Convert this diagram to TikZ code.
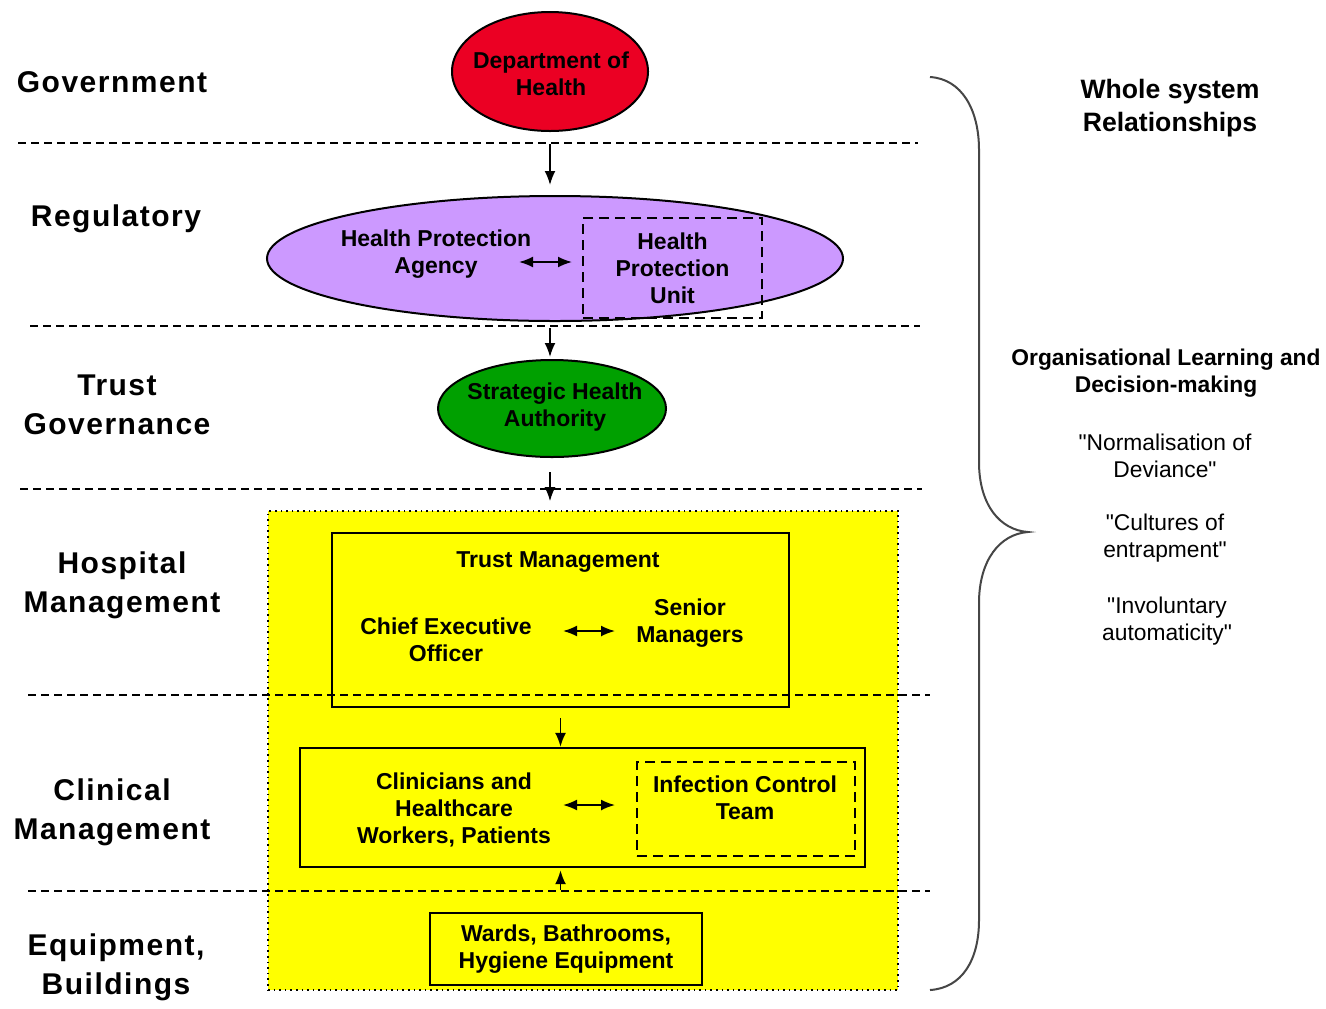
\documentclass[tikz,border=0pt]{standalone}
\usepackage{fontspec}
\setmainfont{Liberation Sans}
\newfontfamily\labfont[LetterSpace=5]{Liberation Sans}
\usetikzlibrary{shapes.geometric,arrows.meta}
\definecolor{dohred}{RGB}{235,0,35}
\definecolor{hpalav}{RGB}{204,153,255}
\definecolor{shagreen}{RGB}{0,160,0}
\definecolor{boxyellow}{RGB}{255,255,0}
\definecolor{bracegray}{RGB}{70,70,70}
\tikzset{
  ell/.style={ellipse, draw=black, line width=1pt, inner sep=0pt},
  txt/.style={align=center, inner sep=0pt, font=\fontsize{11.5}{13.5}\selectfont\bfseries},
  lab/.style={align=center, inner sep=0pt, font=\fontsize{15}{19.5}\selectfont\labfont\bfseries},
  sidebold/.style={align=center, inner sep=0pt, font=\fontsize{11.4}{13.5}\selectfont\bfseries},
  sidequote/.style={align=center, inner sep=0pt, font=\fontsize{11.4}{13.5}\selectfont},
  solidbox/.style={draw=black, line width=1.2pt, inner sep=0pt},
  dashbox/.style={draw=black, line width=1pt, dash pattern=on 5pt off 3pt, inner sep=0pt},
  sepline/.style={line width=0.7pt, dash pattern=on 4pt off 2.5pt},
  arr/.style={-{Latex[length=7pt,width=5.5pt]}, line width=0.9pt},
  dbl/.style={{Latex[length=7pt,width=5.5pt]}-{Latex[length=7pt,width=5.5pt]}, line width=0.9pt},
}
\begin{document}
\begin{tikzpicture}[x=0.5pt,y=-0.5pt]
\useasboundingbox (0,0) rectangle (1326,1008);

% left labels
\node[lab] (lgov) at (112,82) {Government};
\node[lab] (lreg) at (116,219) {Regulatory};
\node[lab] (ltrust) at (117,405) {Trust\\Governance};
\node[lab] (lhosp) at (122,585) {Hospital\\Management};
\node[lab] (lclin) at (112,812) {Clinical\\Management};
\node[lab] (lequip) at (116,967) {Equipment,\\Buildings};

% ellipses
\node[ell, fill=dohred, minimum width=98pt, minimum height=59.5pt] (doh) at (550,71.5) {};
\node[txt] (dohT) at (551,74) {Department of\\Health};
\node[ell, fill=hpalav, minimum width=288pt, minimum height=62.5pt] (hpa) at (555,258.5) {};
\node[txt] (hpaT) at (436,254) {Health Protection\\Agency};
\node[dashbox, minimum width=89.5pt, minimum height=50pt, align=center,
  font=\fontsize{11.5}{13.5}\selectfont\bfseries] (hpu) at (672.5,268) {Health\\Protection\\Unit};
\node[ell, fill=shagreen, minimum width=114pt, minimum height=48.5pt] (sha) at (552,408.5) {};
\node[txt] (shaT) at (555,407) {Strategic Health\\Authority};

% yellow hospital box
\node[draw=black, line width=0.8pt, dotted, fill=boxyellow, minimum width=315pt, minimum height=239.5pt, inner sep=0pt] (hosp) at (583,750.5) {};

% trust management
\node[solidbox, minimum width=228.5pt, minimum height=87pt] (tm) at (560.5,620) {};
\node[txt] (tmT) at (558,562) {Trust Management};
\node[txt] (ceo) at (446,640) {Chief Executive\\Officer};
\node[txt] (sm) at (690,623) {Senior\\Managers};

% clinical
\node[solidbox, minimum width=282.5pt, minimum height=59.5pt] (cl) at (582.5,807.5) {};
\node[txt] (clT) at (454,810) {Clinicians and\\Healthcare\\Workers, Patients};
\node[dashbox, minimum width=109pt, minimum height=47pt] (ict) at (746,809) {};
\node[txt] (ictT) at (745,798) {Infection Control\\Team};

% wards
\node[solidbox, minimum width=136pt, minimum height=36pt, align=center,
  font=\fontsize{11.5}{13.5}\selectfont\bfseries] (wards) at (566,949) {Wards, Bathrooms,\\Hygiene Equipment};

% separator lines
\draw[sepline] (18,143) -- (918,143);
\draw[sepline] (30,326) -- (920,326);
\draw[sepline] (20,489) -- (922,489);
\draw[sepline] (28,695) -- (930,695);
\draw[sepline] (28,891) -- (930,891);

% vertical arrows
\draw[arr, shorten <=6pt, shorten >=5pt] (doh.south) -- (doh.south |- hpa.north);
\draw[arr, shorten <=3pt, shorten >=1pt] (doh.south |- hpa.south) -- (doh.south |- sha.north);
\draw[arr, shorten <=7pt, shorten >=4.5pt] (doh.south |- sha.south) -- (doh.south |- hosp.north);
\draw[arr, shorten <=5pt] (tm.south) -- (tm.south |- cl.north);
\draw[arr, shorten <=11pt, shorten >=1pt] (wards.north -| tm.south) -- (cl.south -| tm.south);

% double arrows
\coordinate (d1a) at (519,262); \coordinate (d1b) at (572,262);
\draw[dbl] (d1a) -- (d1b);
\coordinate (d2a) at (563,631); \coordinate (d2b) at (615,631);
\draw[dbl] (d2a) -- (d2b);
\coordinate (d3a) at (563,805); \coordinate (d3b) at (615,805);
\draw[dbl] (d3a) -- (d3b);

% brace
\draw[bracegray, line width=1pt]
  (930,77) .. controls (962,79) and (979,110) .. (979,150)
  -- (979,462) .. controls (979,505) and (1000,530) .. (1028,532)
  .. controls (1000,534) and (979,560) .. (979,603)
  -- (979,920) .. controls (979,960) and (962,988) .. (930,990);

% right texts
\node[align=center, inner sep=0pt, font=\fontsize{13.3}{16.5}\selectfont\bfseries] (whole) at (1170,108) {Whole system\\Relationships};
\node[sidebold] (org) at (1166,373) {Organisational Learning and\\Decision-making};
\node[sidequote] (q1) at (1165,456) {\textquotedbl Normalisation of\\Deviance\textquotedbl};
\node[sidequote] (q2) at (1165,538) {\textquotedbl Cultures of\\entrapment\textquotedbl};
\node[sidequote] (q3) at (1167,621) {\textquotedbl Involuntary\\automaticity\textquotedbl};
\end{tikzpicture}
\end{document}
